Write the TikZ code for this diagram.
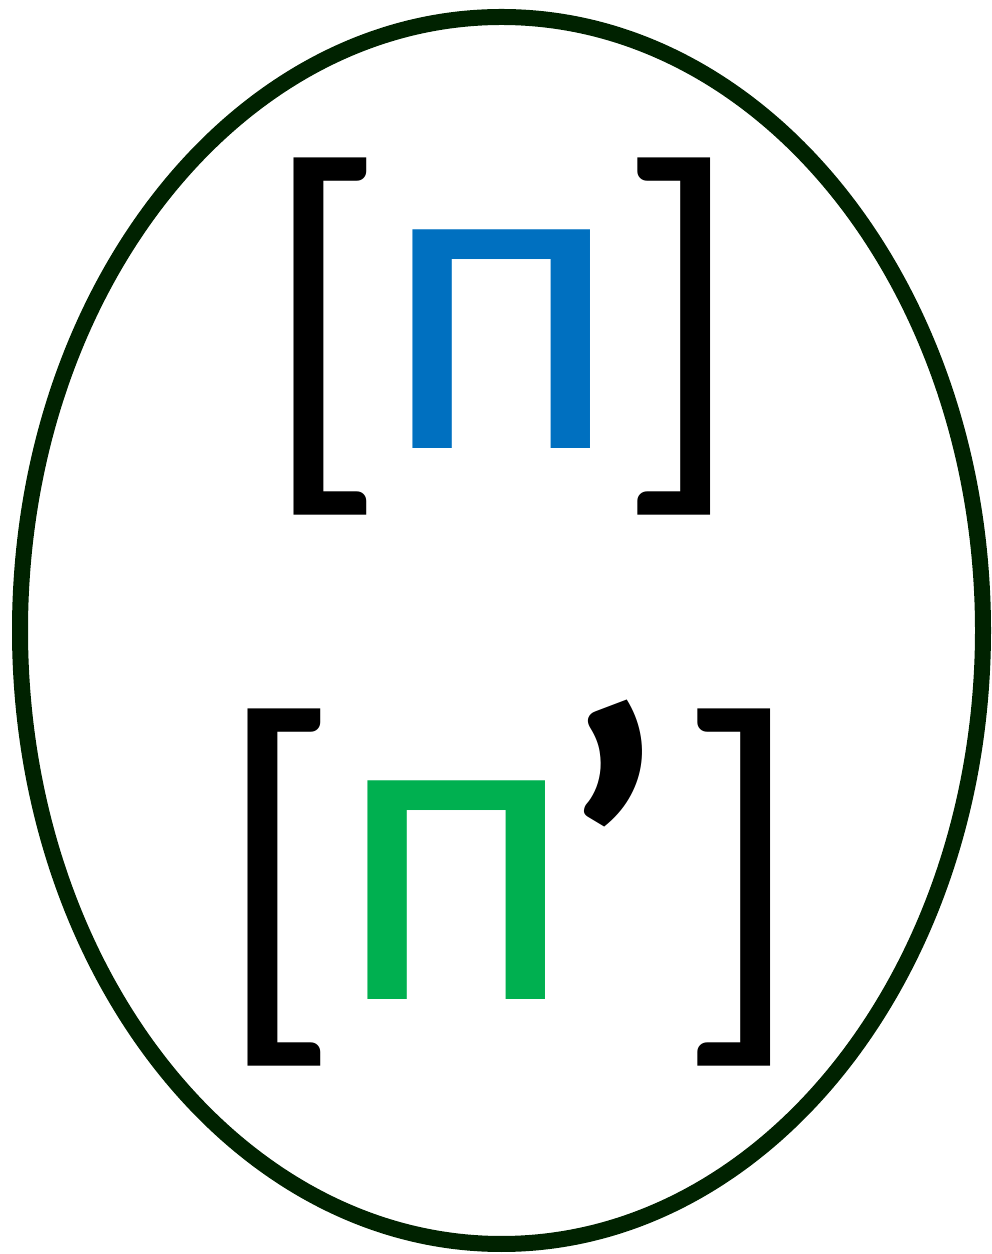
\documentclass[tikz,border=0pt]{standalone}
\usepackage{fontspec}
\setmainfont{Carlito}
\usepackage{xcolor}
\usetikzlibrary{positioning,shapes.geometric}
\definecolor{ringc}{RGB}{0,34,0}
\definecolor{plainc}{RGB}{0,112,192}
\definecolor{palatc}{RGB}{0,176,80}
\newcommand{\brk}[1]{{\fontsize{416}{420}\selectfont\raisebox{-10pt}{#1}}}
\newcommand{\soft}{{\fontsize{420}{420}\selectfont\bfseries\raisebox{-6pt}{’}}}

\begin{document}
\begin{tikzpicture}[x=1pt, y=1pt,
    phon/.style={inner sep=0pt, anchor=base, font=\fontsize{458}{470}\selectfont}]
  \useasboundingbox (0,0) rectangle (992,1254);
  % outer ring
  \node[draw=ringc, line width=16pt, ellipse, minimum width=963pt, minimum height=1227pt, inner sep=0pt] (ring) at (501.5,623.5) {};
  % the two sounds
  \node[phon] (plain) at (502,805) {\brk{[}\kern-6pt\textcolor{plainc}{п}\kern-6pt\brk{]}};
  \node[phon] (palat) at (509.5,254) {\brk{[}\kern-6pt\textcolor{palatc}{п}\kern-18pt\soft\kern10pt\brk{]}};
\end{tikzpicture}
\end{document}
